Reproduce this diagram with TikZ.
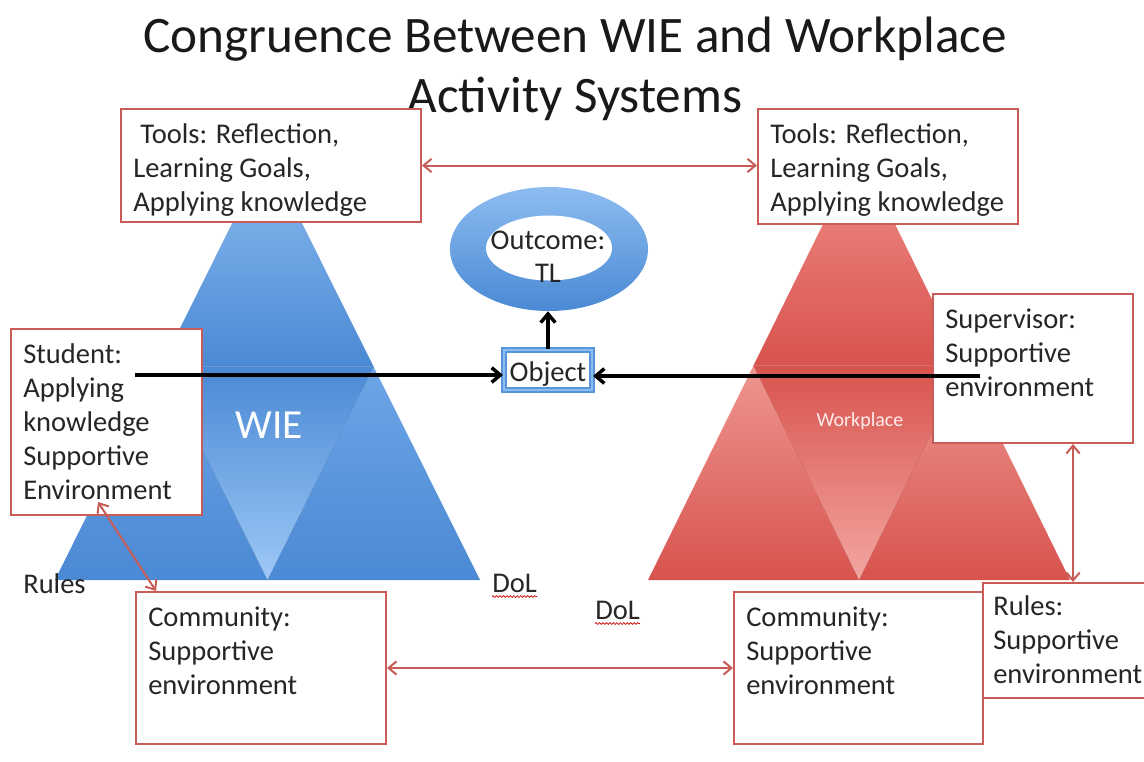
\documentclass[tikz,border=0pt]{standalone}
\usepackage{fontspec}
\setmainfont{Carlito}
\usetikzlibrary{arrows.meta,shapes.geometric,calc,decorations.pathmorphing}
\definecolor{boxred}{RGB}{201,92,87}
\definecolor{bluL}{RGB}{141,188,240}
\definecolor{bluM}{RGB}{110,165,230}
\definecolor{bluD}{RGB}{74,137,212}
\definecolor{bluI}{RGB}{158,200,247}
\definecolor{redL}{RGB}{241,142,137}
\definecolor{redM}{RGB}{238,150,145}
\definecolor{redD}{RGB}{216,83,77}
\definecolor{redI}{RGB}{243,166,161}
\definecolor{objblue}{RGB}{88,148,218}
\begin{document}
\begin{tikzpicture}[x=0.75pt,y=-0.75pt,
  box/.style={draw=boxred, line width=1.5pt, fill=white, inner sep=0pt, rectangle},
  txt/.style={font=\fontsize{21.4}{25.5}\selectfont, align=left, inner sep=0pt, anchor=north west, text=black!85},
  lbl/.style={font=\fontsize{21.4}{25.5}\selectfont, inner sep=0pt, anchor=west, text=black!85},
  rarr/.style={draw=boxred, line width=1.5pt, {Straight Barb[length=6pt,width=10pt]}-{Straight Barb[length=6pt,width=10pt]}},
  barr/.style={draw=black, line width=2.6pt, -{Straight Barb[length=6.5pt,width=11pt]}},
  wavy/.style={draw=red!80!black, line width=0.5pt, decorate, decoration={snake, amplitude=0.7pt, segment length=2.6pt}}
]
\useasboundingbox (0,0) rectangle (1144,761);
\clip (0,0) rectangle (1144,761);

% title
\node[font=\fontsize{38.4}{45}\selectfont, align=center, inner sep=0pt, text=black!90] (title) at (575,69) {Congruence Between WIE and Workplace\\Activity Systems};

% blue triangle (WIE)
\coordinate (bA) at (267,153);
\coordinate (bB) at (55,580);
\coordinate (bC) at (480,580);
\coordinate (bL) at ($(bA)!0.5!(bB)$);
\coordinate (bR) at ($(bA)!0.5!(bC)$);
\coordinate (bM) at ($(bB)!0.5!(bC)$);
\shade[top color=bluL, bottom color=bluD] (bA) -- (bL) -- (bR) -- cycle;
\shade[top color=bluM, bottom color=bluD] (bL) -- (bB) -- (bM) -- cycle;
\shade[top color=bluM, bottom color=bluD] (bR) -- (bM) -- (bC) -- cycle;
\shade[top color=bluD, bottom color=bluI] (bL) -- (bR) -- (bM) -- cycle;
\draw[bluD!80!black, line width=0.3pt, opacity=0.5] (bL) -- (bM) -- (bR) -- cycle;
\node[font=\fontsize{31}{36}\selectfont, text=white, inner sep=0pt] (wie) at (269,425) {WIE};

% red triangle (Workplace)
\coordinate (rA) at (859,151);
\coordinate (rB) at (648,580);
\coordinate (rC) at (1070,580);
\coordinate (rL) at ($(rA)!0.5!(rB)$);
\coordinate (rR) at ($(rA)!0.5!(rC)$);
\coordinate (rM) at ($(rB)!0.5!(rC)$);
\shade[top color=redL, bottom color=redD] (rA) -- (rL) -- (rR) -- cycle;
\shade[top color=redM, bottom color=redD] (rL) -- (rB) -- (rM) -- cycle;
\shade[top color=redM, bottom color=redD] (rR) -- (rM) -- (rC) -- cycle;
\shade[top color=redD, bottom color=redI] (rL) -- (rR) -- (rM) -- cycle;
\draw[redD!80!black, line width=0.3pt, opacity=0.5] (rL) -- (rM) -- (rR) -- cycle;
\node[font=\fontsize{15}{18}\selectfont, text=white!92!red, inner sep=0pt] (wp) at (860,421) {Workplace};

% outcome ring
\node[ellipse, minimum width=148.5pt, minimum height=93pt, inner sep=0pt, top color=bluL, bottom color=bluD, draw=none] (ring) at (549,249) {};
\node[ellipse, minimum width=94.5pt, minimum height=48.75pt, inner sep=0pt, fill=white] (hole) at (549,248) {};
\node[font=\fontsize{21.4}{25}\selectfont, align=center, inner sep=0pt, text=black!85] (outc) at (548,257) {Outcome:\\TL};

% object
\node[draw=objblue, line width=1.5pt, double=bluL, double distance=1.6pt, fill=white, minimum width=66pt, minimum height=30pt, inner sep=0pt] (obj) at (548,370) {};
\node[font=\fontsize{21.4}{25}\selectfont, inner sep=0pt, text=black!85] (objt) at (548,374) {Object};

% boxes
\node[box, minimum width=225pt, minimum height=84.75pt] (tl) at (271,165.5) {};
\node[box, minimum width=195pt, minimum height=86.25pt] (tr) at (888,166.5) {};
\node[box, minimum width=143.25pt, minimum height=139.5pt] (st) at (106.5,422) {};
\node[box, minimum width=150pt, minimum height=111.75pt] (sp) at (1033,368.5) {};
\node[box, minimum width=187.5pt, minimum height=114pt] (cl) at (261,668) {};
\node[box, minimum width=186.75pt, minimum height=114pt] (cr) at (858.5,668) {};
\node[box, minimum width=132.75pt, minimum height=86.25pt] (rb) at (1071.5,640.5) {};

% box texts
\node[txt] (tlt) at (133,123) {\hspace*{0.25em}Tools: Reflection,\\Learning Goals,\\Applying knowledge};
\node[txt] (trt) at (770,123) {Tools: Reflection,\\Learning Goals,\\Applying knowledge};
\node[txt] (stt) at (23,343) {Student:\\Applying\\knowledge\\Supportive\\Environment};
\node[txt] (spt) at (945,309) {Supervisor:\\Supportive\\environment};
\node[txt] (clt) at (148,607) {Community:\\Supportive\\environment};
\node[txt] (crt) at (746,607) {Community:\\Supportive\\environment};
\node[txt] (rbt) at (993,595) {Rules:\\Supportive\\environment};

% free labels
\node[lbl] (rules) at (23,584) {Rules};
\node[lbl] (dol1) at (492,583) {DoL};
\node[lbl] (dol2) at (595,610) {DoL};
\draw[wavy] ($(dol1.south west)+(0,4)$) -- ($(dol1.south east)+(0,4)$);
\draw[wavy] ($(dol2.south west)+(0,4)$) -- ($(dol2.south east)+(0,4)$);

% black arrows
\coordinate (sa) at (135,375);
\coordinate (sb) at (980,376);
\draw[barr] (sa) -- (sa -| obj.west);
\draw[barr] (sb) -- (sb -| obj.east);
\draw[barr] (obj.north) -- (obj.north |- ring.south);

% red arrows
\draw[rarr] (tl.east) -- (tl.east -| tr.west);
\draw[rarr] (cl.east) -- (cl.east -| cr.west);
\coordinate (s1) at (98,502);
\draw[rarr] (s1) -- ($(cl.north west)+(21,0)$);
\coordinate (vx) at (1073,0);
\draw[rarr] (sp.south -| vx) -- (rb.north -| vx);
\end{tikzpicture}
\end{document}
